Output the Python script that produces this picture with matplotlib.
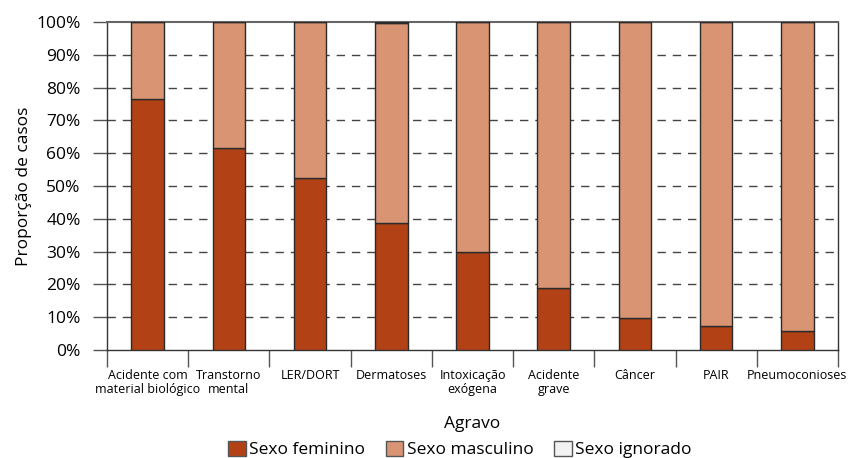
import numpy as np
import matplotlib.pyplot as plt
from matplotlib.ticker import FixedLocator, NullFormatter
from matplotlib.patches import Patch

plt.rcParams['font.family'] = ['Open Sans', 'DejaVu Sans']

# Data (percent of cases)
agravos = ["Acidente com\nmaterial biológico", "Transtorno\nmental", "LER/DORT",
           "Dermatoses", "Intoxicação\nexógena", "Acidente\ngrave", "Câncer",
           "PAIR", "Pneumoconioses"]
feminino = [76.5, 61.6, 52.4, 38.7, 29.9, 18.9, 9.8, 7.3, 5.8]
ignorado = [0.0, 0.0, 0.0, 0.4, 0.0, 0.0, 0.0, 0.0, 0.0]
masculino = [100 - f - i for f, i in zip(feminino, ignorado)]

c_fem = "#B24216"
c_masc = "#D99473"
c_ign = "#F2F2F2"

fig = plt.figure(figsize=(8.52, 4.58), dpi=100)
ax = fig.add_axes([0.1256, 0.2358, 0.8580, 0.7162])

x = np.arange(len(agravos))
w = 0.4
ax.bar(x, feminino, width=w, color=c_fem, edgecolor="#2a2a2a", linewidth=1, zorder=3)
ax.bar(x, masculino, width=w, bottom=feminino, color=c_masc, edgecolor="#2a2a2a",
       linewidth=1, zorder=3)
bottom2 = [f + m for f, m in zip(feminino, masculino)]
ax.bar(x, ignorado, width=w, bottom=bottom2, color=c_ign, edgecolor="#2a2a2a",
       linewidth=1, zorder=3)

ax.set_xlim(-0.5, len(agravos) - 0.5)
ax.set_ylim(0, 100)

yt = np.arange(0, 101, 10)
ax.set_yticks(yt)
ax.set_yticklabels([f"{v}%" for v in yt], fontsize=12.5)
ax.tick_params(axis="y", length=10, width=1, color="#555555", pad=9)
for v in yt[1:-1]:
    ax.axhline(v, color="#444444", linestyle=(0, (6, 5)), linewidth=1, zorder=1)

ax.set_xticks(x)
ax.set_xticklabels(agravos, fontsize=9, linespacing=1.1)
ax.tick_params(axis="x", which="major", length=0, pad=14)
ax.xaxis.set_minor_locator(FixedLocator(np.arange(-0.5, len(agravos), 1)))
ax.xaxis.set_minor_formatter(NullFormatter())
ax.tick_params(axis="x", which="minor", length=12, width=1, color="#555555")

for s in ["left", "bottom", "right"]:
    ax.spines[s].set_color("#333333")
    ax.spines[s].set_linewidth(1)
ax.spines["top"].set_color("#666666")
ax.spines["top"].set_linewidth(1.5)

ax.set_ylabel("Proporção de casos", fontsize=12.5)
ax.yaxis.set_label_coords(-0.103, 0.5)
ax.set_xlabel("Agravo", fontsize=12.5, labelpad=14)

handles = [Patch(facecolor=c_fem, edgecolor="#555555", label="Sexo feminino"),
           Patch(facecolor=c_masc, edgecolor="#555555", label="Sexo masculino"),
           Patch(facecolor=c_ign, edgecolor="#555555", label="Sexo ignorado")]
fig.legend(handles=handles, loc="lower center", bbox_to_anchor=(0.54, -0.035), ncol=3,
           frameon=False, fontsize=12.5, handlelength=1.0, handleheight=1.0,
           handletextpad=0.2, columnspacing=1.2)

fig.savefig("out.png", dpi=100)
